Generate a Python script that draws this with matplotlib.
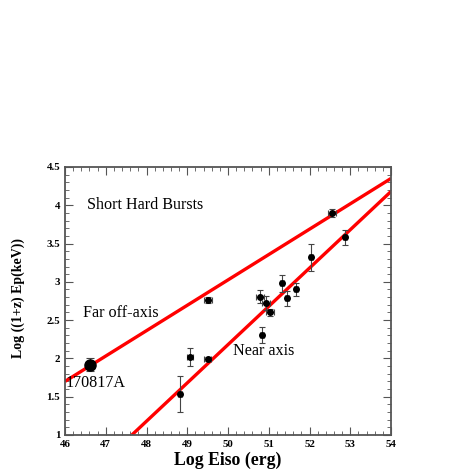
import matplotlib
matplotlib.use("Agg")
import matplotlib.pyplot as plt
import numpy as np
from matplotlib.ticker import MultipleLocator

plt.rcParams['font.family'] = ['Liberation Serif', 'DejaVu Serif']

# data
log_eiso = [48.82, 49.07, 49.50, 49.50, 50.79, 50.93, 51.03, 50.84, 51.32, 51.44, 51.67, 52.03, 52.56, 52.87]
log_ep = [1.535, 2.02, 1.99, 2.76, 2.805, 2.72, 2.60, 2.305, 2.98, 2.785, 2.90, 3.32, 3.90, 3.58]
ep_err = [0.23, 0.12, 0.03, 0.04, 0.087, 0.09, 0.04, 0.10, 0.11, 0.10, 0.087, 0.18, 0.05, 0.10]
eiso_err = [0.05, 0.08, 0.08, 0.1, 0.1, 0.1, 0.1, 0.05, 0.05, 0.05, 0.05, 0.05, 0.1, 0.05]

grb_x = [46.62]
grb_y = [1.92]
grb_yerr = [0.09]
grb_xerr = [0.1]

far_x = [46.0, 54.0]
far_y = [1.70, 4.35]
near_x = [47.64, 54.0]
near_y = [1.0, 4.18]

fig = plt.figure(figsize=(4.69, 4.69), dpi=100)
ax = fig.add_axes([0.1386, 0.0725, 0.6951, 0.5715])

ax.plot(far_x, far_y, color='#ff0000', lw=2.4, solid_capstyle='butt', zorder=2)
ax.plot(near_x, near_y, color='#ff0000', lw=2.4, solid_capstyle='butt', zorder=2)

ax.errorbar(log_eiso, log_ep, yerr=ep_err, xerr=eiso_err, fmt='o', color='black',
            ecolor='#444444', elinewidth=0.8, capsize=2.5, capthick=0.8, markersize=4, zorder=3)
ax.errorbar(grb_x, grb_y, yerr=grb_yerr, xerr=grb_xerr, fmt='o', color='black',
            ecolor='#444444', elinewidth=0.8, capsize=3, capthick=0.8, markersize=8, zorder=3)

ax.set_xlim(46, 54)
ax.set_ylim(1, 4.5)
ax.xaxis.set_major_locator(MultipleLocator(1))
ax.xaxis.set_minor_locator(MultipleLocator(0.2))
ax.yaxis.set_major_locator(MultipleLocator(0.5))
ax.yaxis.set_minor_locator(MultipleLocator(0.1))
ax.set_yticks([1, 1.5, 2, 2.5, 3, 3.5, 4, 4.5])
ax.set_yticklabels(['1', '1.5', '2', '2.5', '3', '3.5', '4', '4.5'])
ax.tick_params(which='both', direction='in', top=True, right=True, colors='#555555',
               labelcolor='black', labelsize=7.8)
ax.tick_params(which='major', length=6, width=0.8)
ax.tick_params(which='minor', length=3, width=0.6)
for lab in ax.get_xticklabels() + ax.get_yticklabels():
    lab.set_fontweight('bold')
for s in ax.spines.values():
    s.set_color('#555555')
    s.set_linewidth(1.3)

ax.text(46.54, 4.0, 'Short Hard Bursts', fontsize=11.6, va='center', ha='left')
ax.text(46.45, 2.59, 'Far off-axis', fontsize=11.6, va='center', ha='left')
ax.text(46.02, 1.68, '170817A', fontsize=11.6, va='center', ha='left')
ax.text(50.12, 2.10, 'Near axis', fontsize=11.6, va='center', ha='left')

ax.set_xlabel('Log Eiso (erg)', fontsize=12.8, fontweight='bold')
ax.xaxis.set_label_coords(0.5, -0.063)
ax.set_ylabel('Log ((1+z) Ep(keV))', fontsize=10, fontweight='bold')
ax.yaxis.set_label_coords(-0.122, 0.51)

fig.savefig('out.png', dpi=100)
